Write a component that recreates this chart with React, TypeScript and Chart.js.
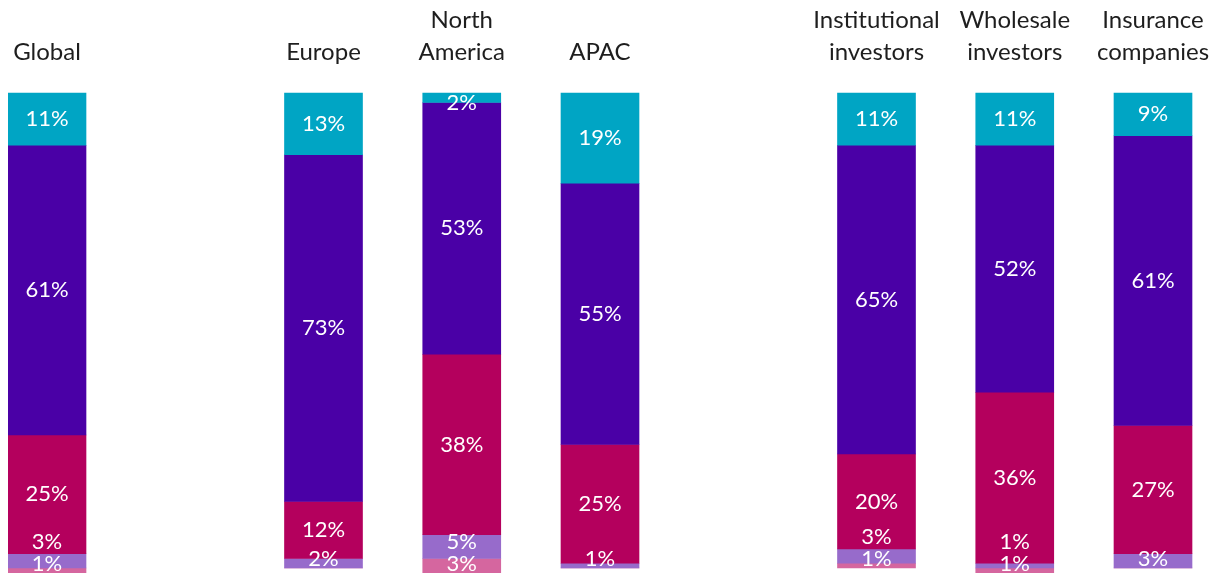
import React, { useEffect, useRef } from "react";
import { Chart, registerables } from "chart.js";

Chart.register(...registerables);

// Category labels (empty strings are spacer slots between groups)
const categories: (string | string[])[] = [
  "Global",
  "",
  "Europe",
  ["North", "America"],
  "APAC",
  "",
  ["Institutional", "investors"],
  ["Wholesale", "investors"],
  ["Insurance", "companies"],
];

// Series values, top segment to bottom segment (percent)
const tealValues = [11, null, 13, 2, 19, null, 11, 11, 9];
const purpleValues = [61, null, 73, 53, 55, null, 65, 52, 61];
const magentaValues = [25, null, 12, 38, 25, null, 20, 36, 27];
const lilacValues = [3, null, 2, 5, 1, null, 3, 1, 3];
const pinkValues = [1, null, 0, 3, 0, null, 1, 1, 0];

const seriesNames = ["Segment 1", "Segment 2", "Segment 3", "Segment 4", "Segment 5"];
const seriesColors = ["#00A5C4", "#4A00A6", "#B4005D", "#976BCB", "#D5669F"];

const FONT = "Lato";

const segLabels = {
  id: "segLabels",
  afterDatasetsDraw(chart: any) {
    const ctx = chart.ctx;
    const n = chart.data.labels.length;
    ctx.save();
    ctx.font = `400 22px ${FONT}`;
    ctx.fillStyle = "#ffffff";
    ctx.textAlign = "center";
    ctx.textBaseline = "middle";
    for (let i = 0; i < n; i++) {
      const items: { x: number; c: number; text: string }[] = [];
      let barTop = Infinity;
      let barBottom = -Infinity;
      chart.data.datasets.forEach((ds: any, di: number) => {
        const v = ds.data[i];
        if (v == null || v <= 0) return;
        const el = chart.getDatasetMeta(di).data[i];
        const t = Math.min(el.y, el.base);
        const b = Math.max(el.y, el.base);
        barTop = Math.min(barTop, t);
        barBottom = Math.max(barBottom, b);
        items.push({ x: el.x, c: (t + b) / 2, text: `${v}%` });
      });
      if (!items.length) continue;
      items[0].c = Math.max(items[0].c, barTop + 10);
      let limit = barBottom - 9;
      for (let k = items.length - 1; k >= 0; k--) {
        const y = Math.min(items[k].c, limit);
        ctx.fillText(items[k].text, items[k].x, y);
        limit = y - 22;
      }
    }
    ctx.restore();
  },
};

export default function App() {
  const ref = useRef<HTMLCanvasElement | null>(null);
  useEffect(() => {
    if (!ref.current) return;
    const valueSets = [tealValues, purpleValues, magentaValues, lilacValues, pinkValues];
    const chart = new Chart(ref.current, {
      type: "bar",
      data: {
        labels: categories as any,
        datasets: valueSets.map((vals, i) => ({
          label: seriesNames[i],
          data: vals as any,
          backgroundColor: seriesColors[i],
          borderWidth: 0,
          barThickness: 78,
          clip: false as any,
        })),
      },
      options: {
        animation: false,
        responsive: true,
        maintainAspectRatio: false,
        layout: { padding: { left: 39, right: 57, top: 0, bottom: 1.25 } },
        plugins: {
          legend: { display: false },
          tooltip: { enabled: false },
        },
        scales: {
          x: {
            type: "category",
            position: "top",
            offset: false,
            stacked: true,
            grid: { display: false, drawTicks: false },
            border: { display: false },
            ticks: {
              padding: 24,
              color: "#1e1e1e",
              autoSkip: false,
              maxRotation: 0,
              font: { family: FONT, size: 24, weight: "400" as any, lineHeight: 1.36 },
            },
            afterFit: (s: any) => {
              s.height = 85;
              s.paddingLeft = 0;
              s.paddingRight = 0;
            },
          },
          y: {
            display: false,
            stacked: true,
            reverse: true,
            min: 0,
            max: 101,
          },
        },
      },
      plugins: [segLabels],
    });
    return () => chart.destroy();
  }, []);
  return (
    <div style={{ position: "relative", width: 1202, height: 566 }}>
      <canvas ref={ref} />
    </div>
  );
}
